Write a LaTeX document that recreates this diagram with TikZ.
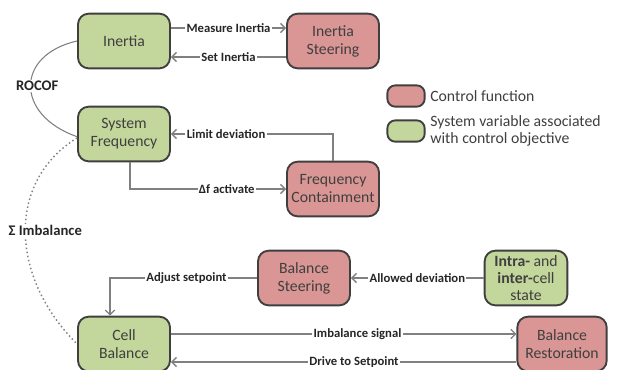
\documentclass[tikz,border=0pt]{standalone}
\usepackage{fontspec}
\setmainfont{Carlito}
\usetikzlibrary{arrows.meta}
\definecolor{ctrlred}{HTML}{D99694}
\definecolor{vargreen}{HTML}{C3D69B}
\definecolor{boxedge}{HTML}{3F3F3F}
\definecolor{linkgray}{HTML}{808080}
\tikzset{
  ctrl/.style={draw=boxedge, line width=1.4pt, fill=ctrlred, rounded corners=8pt,
    minimum width=69pt, minimum height=41pt, align=center, text=boxedge,
    font=\fontsize{11.8}{13.5}\selectfont},
  var/.style={ctrl, fill=vargreen},
  conn/.style={draw=linkgray, line width=1pt, -{Straight Barb[length=3.5pt,width=7pt]}},
  lab/.style={fill=white, inner sep=1pt, text=black!85, font=\fontsize{9.5}{11}\selectfont\bfseries},
  biglab/.style={lab, font=\fontsize{11}{13}\selectfont\bfseries},
}
\def\link{\draw[conn]}

\begin{document}
\begin{tikzpicture}[x=0.75pt,y=-0.75pt]
  \useasboundingbox (0,0) rectangle (617,369);
  % boxes
  \node[var]  (inertia) at (124,41)  {Inertia};
  \node[ctrl] (isteer)  at (333,41)  {Inertia\\Steering};
  \node[var]  (sysf)    at (124,134) {System\\Frequency};
  \node[ctrl] (fcont)   at (333,189) {Frequency\\Containment};
  \node[ctrl] (bsteer)  at (304,278) {Balance\\Steering};
  \node[var, minimum width=62pt, font=\fontsize{11.8}{12.5}\selectfont] (cstate) at (526,278)
    {\textbf{Intra-} and\\\textbf{inter-}cell\\state};
  \node[var]  (cellb)   at (124,344) {Cell\\Balance};
  \node[ctrl, minimum width=67pt] (brest) at (562,344) {Balance\\Restoration};
  % legend
  \node[ctrl, minimum width=28pt, minimum height=16pt, rounded corners=6pt] (legc) at (406,96) {};
  \node[var, minimum width=28pt, minimum height=16pt, rounded corners=6pt] (legv) at (406,131) {};
  \node[anchor=west, text=boxedge, font=\fontsize{11.8}{13.5}\selectfont] (legct) at (legc.east) {Control function};
  \node[anchor=west, align=left, text=boxedge, font=\fontsize{11.8}{12.5}\selectfont] (legvt) at (legv.east)
    {System variable associated\\with control objective};
  % connectors
  \link (inertia.east |- 0,28) -- node[lab]{Measure Inertia} (isteer.west |- 0,28);
  \link (isteer.west |- 0,57) -- node[lab]{Set Inertia} (inertia.east |- 0,57);
  \link (fcont.north) |- node[lab, pos=0.83]{Limit deviation} (sysf.east);
  \link ([xshift=4.5pt]sysf.south) |- node[lab, pos=0.81]{Δf activate} (fcont.west);
  \link (bsteer.west) -| node[lab, pos=0.24]{Adjust setpoint} ([xshift=-10.5pt]cellb.north);
  \link (cstate.west) -- node[lab]{Allowed deviation} (bsteer.east);
  \link (cellb.east |- 0,334) -- node[lab, pos=0.54]{Imbalance signal} (brest.west |- 0,334);
  \link (brest.west |- 0,362) -- node[lab, pos=0.47]{Drive to Setpoint} (cellb.east |- 0,362);
  % coupling curves
  \draw[linkgray, line width=0.8pt] (inertia.west) .. controls (15,55) and (15,115) ..
    node[biglab, pos=0.5, xshift=5pt]{ROCOF} ([yshift=-2pt]sysf.west);
  \draw[linkgray, line width=1.1pt, dotted] ([yshift=-3pt]sysf.west) .. controls (8,180) and (8,275) ..
    node[biglab, pos=0.5, xshift=15pt]{Σ Imbalance} (cellb.west);
\end{tikzpicture}
\end{document}
